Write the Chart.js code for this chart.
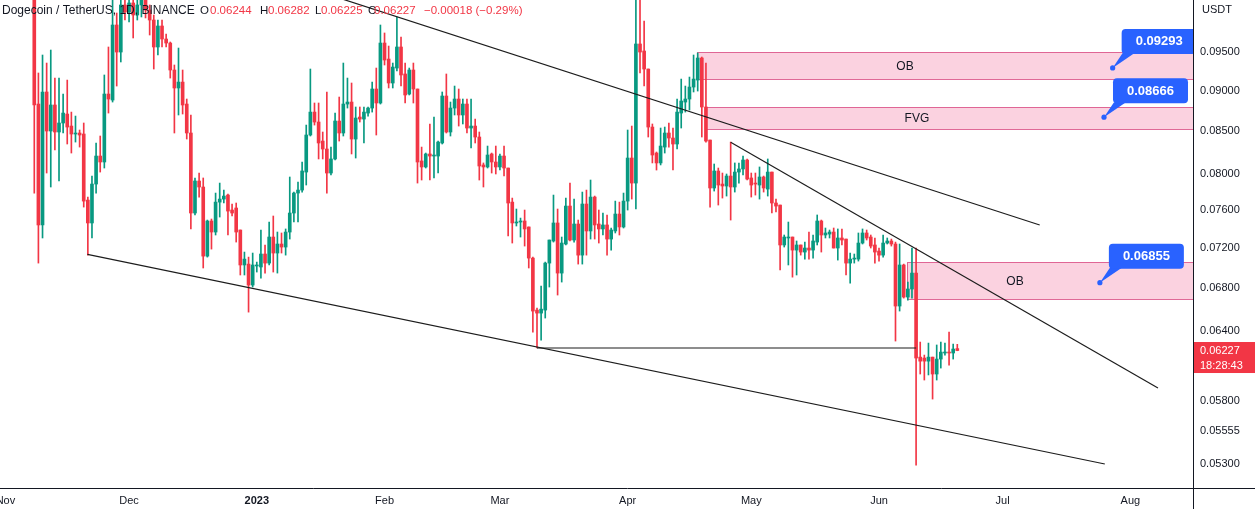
<!DOCTYPE html>
<html><head><meta charset="utf-8">
<script src="https://cdn.jsdelivr.net/npm/chart.js@4.4.0/dist/chart.umd.min.js"></script>
<style>html,body{margin:0;padding:0;background:#fff;overflow:hidden}canvas{display:block}</style>
</head><body>
<canvas id="c" width="1255" height="509"></canvas>
<script>
// ---------- data (DOGE/USDT daily) ----------
const axisStartDate = '2022-11-01';
const firstCandleDate = '2022-11-08';
const open = [
0.1120,0.08829,0.07439,0.08981,0.08498,0.08817,0.08486,0.08595,0.08705,0.08558,
0.08462,0.08474,0.08462,0.07706,0.07460,0.07883,0.08202,0.08133,0.08955,0.08879,
0.09875,0.09504,0.10159,0.10059,0.10188,0.10016,0.10159,0.10260,0.10087,0.09945,
0.09572,0.09861,0.09681,0.09626,0.09265,0.09032,0.09108,0.08829,0.08474,0.07566,
0.07917,0.07850,0.07118,0.07481,0.07365,0.07684,0.07717,0.07761,0.07598,0.07620,
0.07386,0.07029,0.07038,0.06832,0.07019,0.07009,0.07139,0.07048,0.07313,0.07149,
0.07241,0.07210,0.07365,0.07566,0.07783,0.07816,0.08018,0.08450,0.08729,0.08607,
0.08378,0.08284,0.08007,0.08168,0.08619,0.08474,0.08829,0.08854,0.08402,0.08668,
0.08643,0.08717,0.08779,0.09019,0.08842,0.09626,0.09410,0.09096,0.09291,0.09572,
0.09213,0.08955,0.09265,0.09019,0.08145,0.08076,0.08226,0.08202,0.08202,0.08355,
0.08930,0.08486,0.08779,0.08892,0.08693,0.08829,0.08534,0.08558,0.08426,0.08099,
0.08076,0.08226,0.08133,0.08076,0.08202,0.08064,0.07684,0.07460,0.07470,0.07481,
0.07418,0.07098,0.06594,0.06566,0.06594,0.07048,0.07272,0.07460,0.06949,0.07241,
0.07641,0.07282,0.07449,0.07128,0.07663,0.07376,0.07739,0.07449,0.07397,0.07439,
0.07292,0.07376,0.07555,0.07418,0.07695,0.08179,0.07894,0.09613,0.09518,0.09278,
0.08546,0.08237,0.08122,0.08307,0.08474,0.08414,0.08343,0.08717,0.08854,0.08892,
0.09044,0.09134,0.09424,0.08792,0.08390,0.07839,0.08030,0.07883,0.07861,0.07973,
0.07850,0.08018,0.08053,0.08156,0.07951,0.07894,0.07872,0.07962,0.07827,0.08018,
0.07674,0.07652,0.07231,0.07303,0.07313,0.07179,0.07231,0.07159,0.07200,0.07179,
0.07261,0.07481,0.07334,0.07344,0.07365,0.07200,0.07303,0.07292,0.07048,0.07088,
0.07088,0.07251,0.07355,0.07313,0.07231,0.07169,0.07128,0.07251,0.07272,0.07241,
0.06632,0.07029,0.06717,0.06794,0.06949,0.06169,0.06161,0.06134,0.06169,0.06023,
0.06152,0.06205,0.06213,0.06205,0.06244];
const high = [
0.1150,0.09226,0.09464,0.09357,0.09531,0.09160,0.09160,0.08955,0.09134,0.08729,
0.08680,0.08510,0.08595,0.07739,0.07973,0.08355,0.08438,0.09200,0.09572,0.10275,
0.10044,0.10275,0.10260,0.10318,0.10347,0.10275,0.10377,0.10347,0.10159,0.10016,
0.09945,0.09945,0.09750,0.09640,0.09331,0.09558,0.09265,0.08892,0.08693,0.07951,
0.08007,0.07951,0.07491,0.07502,0.07783,0.07894,0.07816,0.07772,0.07663,0.07674,
0.07386,0.07159,0.07108,0.07149,0.07058,0.07386,0.07231,0.07470,0.07534,0.07365,
0.07355,0.07397,0.07962,0.07794,0.07906,0.08133,0.08570,0.09278,0.08842,0.08842,
0.08486,0.08981,0.08307,0.08717,0.08917,0.09357,0.09160,0.09096,0.08792,0.08792,
0.08792,0.08792,0.09108,0.09291,0.09875,0.09764,0.09585,0.09357,0.09988,0.09708,
0.09357,0.09291,0.09357,0.09019,0.08307,0.08237,0.08583,0.08668,0.08378,0.08981,
0.09213,0.08854,0.09057,0.09019,0.08892,0.08892,0.08892,0.08643,0.08486,0.08122,
0.08319,0.08237,0.08319,0.08226,0.08319,0.08064,0.07728,0.07609,0.07512,0.07598,
0.07418,0.07108,0.06613,0.06822,0.07058,0.07282,0.07761,0.07609,0.07313,0.07728,
0.07894,0.07717,0.07491,0.07794,0.07816,0.07928,0.07750,0.07598,0.07566,0.07545,
0.07407,0.07695,0.07684,0.07783,0.08510,0.08558,0.10465,0.10347,0.09931,0.09278,
0.08583,0.08249,0.08534,0.08546,0.08595,0.08534,0.08892,0.09147,0.09057,0.09173,
0.09464,0.09491,0.09437,0.09357,0.08390,0.08110,0.08064,0.08007,0.07996,0.08366,
0.08122,0.08122,0.08202,0.08168,0.08007,0.08007,0.08076,0.07973,0.08168,0.08018,
0.07717,0.07652,0.07334,0.07470,0.07313,0.07272,0.07231,0.07261,0.07365,0.07334,
0.07545,0.07491,0.07407,0.07386,0.07407,0.07397,0.07397,0.07292,0.07149,0.07139,
0.07355,0.07397,0.07386,0.07334,0.07303,0.07200,0.07334,0.07303,0.07292,0.07261,
0.07241,0.07038,0.06861,0.07200,0.07200,0.06302,0.06187,0.06293,0.06169,0.06276,
0.06302,0.06293,0.06392,0.06284,0.06282];
const low = [
0.07783,0.07048,0.07303,0.08007,0.07850,0.08272,0.07917,0.08474,0.08343,0.08237,
0.08366,0.08307,0.07630,0.07128,0.07303,0.07783,0.08018,0.08064,0.08717,0.08854,
0.09057,0.09371,0.09945,0.09917,0.09695,0.09945,0.09988,0.09974,0.09736,0.09278,
0.09464,0.09572,0.09572,0.09160,0.08474,0.08693,0.08705,0.08402,0.07397,0.07545,
0.07739,0.06999,0.07108,0.07189,0.07334,0.07523,0.07674,0.07334,0.07534,0.07261,
0.06930,0.06930,0.06575,0.06813,0.06959,0.06900,0.06949,0.07029,0.06959,0.06949,
0.07149,0.07128,0.07292,0.07470,0.07470,0.07794,0.07872,0.08438,0.08570,0.08168,
0.08168,0.07783,0.07985,0.08156,0.08378,0.08438,0.08779,0.08226,0.08179,0.08607,
0.08355,0.08680,0.08729,0.08450,0.08829,0.09331,0.09032,0.09032,0.09252,0.09057,
0.08842,0.08943,0.08842,0.07894,0.07928,0.08064,0.07928,0.07951,0.08007,0.08343,
0.08474,0.08438,0.08693,0.08558,0.08583,0.08474,0.08296,0.08355,0.07928,0.07850,
0.08064,0.08007,0.07996,0.08041,0.07973,0.07324,0.07251,0.07428,0.07313,0.07220,
0.06999,0.06392,0.06249,0.06320,0.06520,0.06813,0.07261,0.06736,0.06861,0.07231,
0.07272,0.07261,0.07038,0.07038,0.07128,0.07292,0.07292,0.07251,0.07334,0.07128,
0.07179,0.07355,0.07334,0.07407,0.07598,0.07717,0.07609,0.09226,0.09057,0.08426,
0.08122,0.08041,0.08099,0.08237,0.08307,0.08041,0.08284,0.08534,0.08729,0.08754,
0.08981,0.08993,0.08426,0.08366,0.07630,0.07805,0.07652,0.07728,0.07750,0.07491,
0.07794,0.07894,0.07985,0.07928,0.07739,0.07761,0.07717,0.07794,0.07750,0.07566,
0.07577,0.06979,0.07210,0.07029,0.06909,0.06930,0.07128,0.07088,0.07088,0.07098,
0.07231,0.07159,0.07303,0.07303,0.07200,0.07078,0.07231,0.06930,0.06851,0.07048,
0.07068,0.07241,0.07282,0.07200,0.07048,0.07068,0.07108,0.07241,0.07220,0.06311,
0.06585,0.06707,0.06688,0.06707,0.05294,0.06023,0.05972,0.06015,0.05813,0.05972,
0.06074,0.06187,0.06100,0.06152,0.06225];
const close = [
0.08817,0.07439,0.08981,0.08498,0.08817,0.08486,0.08595,0.08717,0.08546,0.08462,
0.08474,0.08450,0.07695,0.07460,0.07883,0.08202,0.08133,0.08955,0.08892,0.09875,
0.09504,0.10159,0.10059,0.10188,0.10016,0.10159,0.10260,0.10087,0.09945,0.09572,
0.09861,0.09681,0.09626,0.09265,0.09032,0.09108,0.08817,0.08474,0.07566,0.07917,
0.07850,0.07118,0.07481,0.07365,0.07684,0.07717,0.07750,0.07587,0.07566,0.07365,
0.07029,0.07088,0.06832,0.07029,0.07029,0.07139,0.07048,0.07313,0.07149,0.07241,
0.07210,0.07365,0.07566,0.07783,0.07816,0.08030,0.08450,0.08729,0.08607,0.08355,
0.08284,0.08007,0.08168,0.08619,0.08474,0.08829,0.08854,0.08402,0.08656,0.08643,
0.08729,0.08779,0.09019,0.08842,0.09626,0.09397,0.09096,0.09304,0.09572,0.09200,
0.08943,0.09265,0.09019,0.08133,0.08076,0.08226,0.08202,0.08214,0.08366,0.08930,
0.08486,0.08779,0.08892,0.08693,0.08829,0.08534,0.08558,0.08426,0.08087,0.08076,
0.08214,0.08133,0.08076,0.08202,0.08064,0.07674,0.07460,0.07470,0.07481,0.07397,
0.07098,0.06585,0.06566,0.06603,0.07048,0.07282,0.07460,0.06949,0.07251,0.07641,
0.07282,0.07449,0.07128,0.07663,0.07376,0.07739,0.07439,0.07397,0.07439,0.07292,
0.07386,0.07555,0.07418,0.07695,0.08179,0.07894,0.09613,0.09504,0.09278,0.08546,
0.08214,0.08122,0.08319,0.08474,0.08414,0.08343,0.08729,0.08867,0.08892,0.09044,
0.09147,0.09424,0.08792,0.08378,0.07839,0.08030,0.07872,0.07861,0.07973,0.07850,
0.08018,0.08053,0.08156,0.07939,0.07872,0.07883,0.07962,0.07839,0.08018,0.07674,
0.07641,0.07231,0.07313,0.07313,0.07179,0.07231,0.07159,0.07200,0.07179,0.07272,
0.07481,0.07334,0.07355,0.07365,0.07200,0.07303,0.07282,0.07048,0.07088,0.07098,
0.07251,0.07355,0.07303,0.07220,0.07159,0.07128,0.07251,0.07272,0.07241,0.06632,
0.07029,0.06717,0.06794,0.06949,0.06161,0.06134,0.06134,0.06169,0.06023,0.06152,
0.06213,0.06213,0.06205,0.06240,0.06227];

const monthTickDays   = [0, 30, 61, 92, 120, 151, 181, 212, 242, 273];
const monthTickLabels = ['Nov','Dec','2023','Feb','Mar','Apr','May','Jun','Jul','Aug'];
const priceTicks = [0.095, 0.09, 0.085, 0.08, 0.076, 0.072, 0.068, 0.064, 0.058, 0.05555, 0.053];

// drawn lines: [day, price] pairs
const upperTrendline  = [[70, 0.10475], [251.0, 0.07439]];
const middleTrendline = [[176.0, 0.08363], [279.7, 0.05905]];
const lowerTrendline  = [[19.9, 0.07136], [266.8, 0.05302]];
const supportLine     = [[129, 0.06249], [221, 0.06249]];

// zones: start day, top price, bottom price, label, label day
const zoneNames   = ['OB', 'FVG', 'OB'];
const zoneStart   = [167.9, 169.7, 218.8];
const zoneTop     = [0.09500, 0.08788, 0.07055];
const zoneBottom  = [0.09143, 0.08518, 0.06695];
const zoneTextDay = [218.3, 221.2, 245.0];

// price callouts
const calloutPrice = [0.09293, 0.08666, 0.06855];
const calloutDay   = [268.7, 266.6, 265.6];

const lastPrice = 0.06227;
const countdown = '18:28:43';
const headerParts = ['Dogecoin / TetherUS, 1D, BINANCE','O','0.06244','H','0.06282','L','0.06225','C','0.06227','\u22120.00018 (\u22120.29%)'];

// ---------- build ----------
function dayNumber(iso){const [y,m,d]=iso.split('-').map(Number);return Math.round((Date.UTC(y,m-1,d)-Date.UTC(2022,10,1))/86400000);}
const firstDay = dayNumber(firstCandleDate) - dayNumber(axisStartDate);
const days = open.map((_,i)=>firstDay+i);
const UP = '#089981', DOWN = '#f23645';
const candleColors = open.map((o,i)=> close[i] >= o ? UP : DOWN);
const bodies = days.map((d,i)=>({x:d, y:[open[i], close[i]]}));
const wicks  = days.map((d,i)=>({x:d, y:[low[i], high[i]]}));
const toPts = arr => arr.map(p=>({x:p[0], y:p[1]}));
const FONT = "'Liberation Sans', Arial, sans-serif";
const TXT = '#131722';

const lineDs = (pts) => ({type:'line', data:toPts(pts), borderColor:'#1c1c1c', borderWidth:1.2,
  pointRadius:0, fill:false, tension:0, order:0, clip:0});

const overlay = {
  id:'overlay',
  beforeDatasetsDraw(chart){
    const {ctx, chartArea:a, scales:{x,y}} = chart;
    ctx.save();
    ctx.beginPath(); ctx.rect(a.left,a.top,a.right-a.left,a.bottom-a.top); ctx.clip();
    zoneNames.forEach((name,i)=>{
      const x0 = x.getPixelForValue(zoneStart[i]), x1 = a.right + 3;
      const y0 = y.getPixelForValue(zoneTop[i]), y1 = y.getPixelForValue(zoneBottom[i]);
      ctx.fillStyle = 'rgba(233,30,99,0.2)';
      ctx.fillRect(x0, y0, x1-x0, y1-y0);
      ctx.strokeStyle = 'rgba(214,60,120,0.75)'; ctx.lineWidth = 1;
      ctx.strokeRect(Math.round(x0)+0.5, Math.round(y0)+0.5, x1-Math.round(x0), Math.round(y1-y0));
      ctx.fillStyle = TXT; ctx.font = '12px '+FONT; ctx.textAlign='center'; ctx.textBaseline='middle';
      ctx.fillText(name, x.getPixelForValue(zoneTextDay[i]), (y0+y1)/2+0.5);
    });
    ctx.restore();
  },
  afterDraw(chart){
    const {ctx, chartArea:a, scales:{x,y}} = chart;
    ctx.save();
    // callouts
    ctx.beginPath(); ctx.rect(a.left,a.top,a.right-a.left,a.bottom-a.top); ctx.clip();
    calloutPrice.forEach((p,i)=>{
      const px = x.getPixelForValue(calloutDay[i]), py = y.getPixelForValue(p);
      const bx = px+9, by = py-39, bw = 75, bh = 25;
      ctx.fillStyle = '#2962ff';
      ctx.beginPath(); ctx.moveTo(px,py); ctx.lineTo(bx+1,by+bh-1); ctx.lineTo(bx+13,by+bh-1); ctx.closePath(); ctx.fill();
      ctx.beginPath(); ctx.roundRect(bx,by,bw,bh,4); ctx.fill();
      ctx.beginPath(); ctx.arc(px,py,2.6,0,Math.PI*2); ctx.fill();
      ctx.fillStyle = '#fff'; ctx.font = 'bold 13px '+FONT; ctx.textAlign='center'; ctx.textBaseline='middle';
      ctx.fillText(p.toFixed(5), bx+bw/2, by+bh/2+0.5);
    });
    ctx.restore();
    ctx.save();
    // header (legend line of the symbol)
    ctx.textBaseline='middle'; ctx.textAlign='left';
    const hx = [2, 200, 210, 260, 268, 315, 321, 368, 374, 424];
    headerParts.forEach((t,i)=>{
      const isValue = i >= 2 && i % 2 === 0 || i === 9;
      ctx.font = (i === 0 ? '12px ' : '11.5px ') + FONT;
      ctx.fillStyle = isValue ? DOWN : TXT;
      ctx.fillText(t, hx[i], 11);
    });
    // axis borders
    ctx.strokeStyle = '#131722'; ctx.lineWidth = 1;
    ctx.beginPath(); ctx.moveTo(0, a.bottom+0.5); ctx.lineTo(chart.width, a.bottom+0.5); ctx.stroke();
    ctx.beginPath(); ctx.moveTo(a.right+0.5, 0); ctx.lineTo(a.right+0.5, chart.height); ctx.stroke();
    // currency
    ctx.fillStyle = TXT; ctx.font = '11px '+FONT; ctx.fillText('USDT', a.right+9, 10);
    // last price label
    const ly = y.getPixelForValue(lastPrice);
    ctx.fillStyle = DOWN; ctx.fillRect(a.right+1, ly-8.5, 61, 31);
    ctx.fillStyle = '#fff'; ctx.font = '11px '+FONT;
    ctx.fillText(lastPrice.toFixed(5), a.right+7, ly+0.5);
    ctx.fillText(countdown, a.right+7, ly+15.5);
    ctx.restore();
  }
};

new Chart(document.getElementById('c'), {
  type:'bar',
  data:{datasets:[
    {label:'body', data:bodies, backgroundColor:candleColors, borderWidth:0, barThickness:3, minBarLength:1, grouped:false, order:1, clip:0},
    {label:'wick', data:wicks, backgroundColor:candleColors, borderWidth:0, barThickness:1, grouped:false, order:2, clip:0},
    lineDs(upperTrendline), lineDs(middleTrendline), lineDs(lowerTrendline), lineDs(supportLine)
  ]},
  options:{
    responsive:false, animation:false, devicePixelRatio:1,
    layout:{padding:0},
    plugins:{legend:{display:false}, tooltip:{enabled:false}},
    scales:{
      x:{type:'linear', min:-1.32, max:288.2, offset:false,
        grid:{display:false, drawTicks:false}, border:{display:false},
        afterBuildTicks:s=>{s.ticks = monthTickDays.map(v=>({value:v}));},
        ticks:{autoSkip:false, maxRotation:0, minRotation:0, padding:6, color:TXT,
          font:c=>({family:FONT, size:11, weight:(c.tick && c.tick.value===61)?'bold':'normal'}),
          callback:v=>monthTickLabels[monthTickDays.indexOf(v)]},
        afterFit:s=>{s.height=21; s.paddingLeft=0; s.paddingRight=0;}},
      y:{type:'logarithmic', position:'right', min:0.05125, max:0.10231,
        grid:{display:false, drawTicks:false}, border:{display:false},
        afterBuildTicks:s=>{s.ticks = priceTicks.map(v=>({value:v}));},
        ticks:{autoSkip:false, padding:7, color:TXT, font:{family:FONT, size:11},
          callback:v=>Number(v).toFixed(5)},
        afterFit:s=>{s.width=62; s.paddingTop=0; s.paddingBottom=0;}}
    }
  },
  plugins:[overlay]
});
</script>
</body></html>
